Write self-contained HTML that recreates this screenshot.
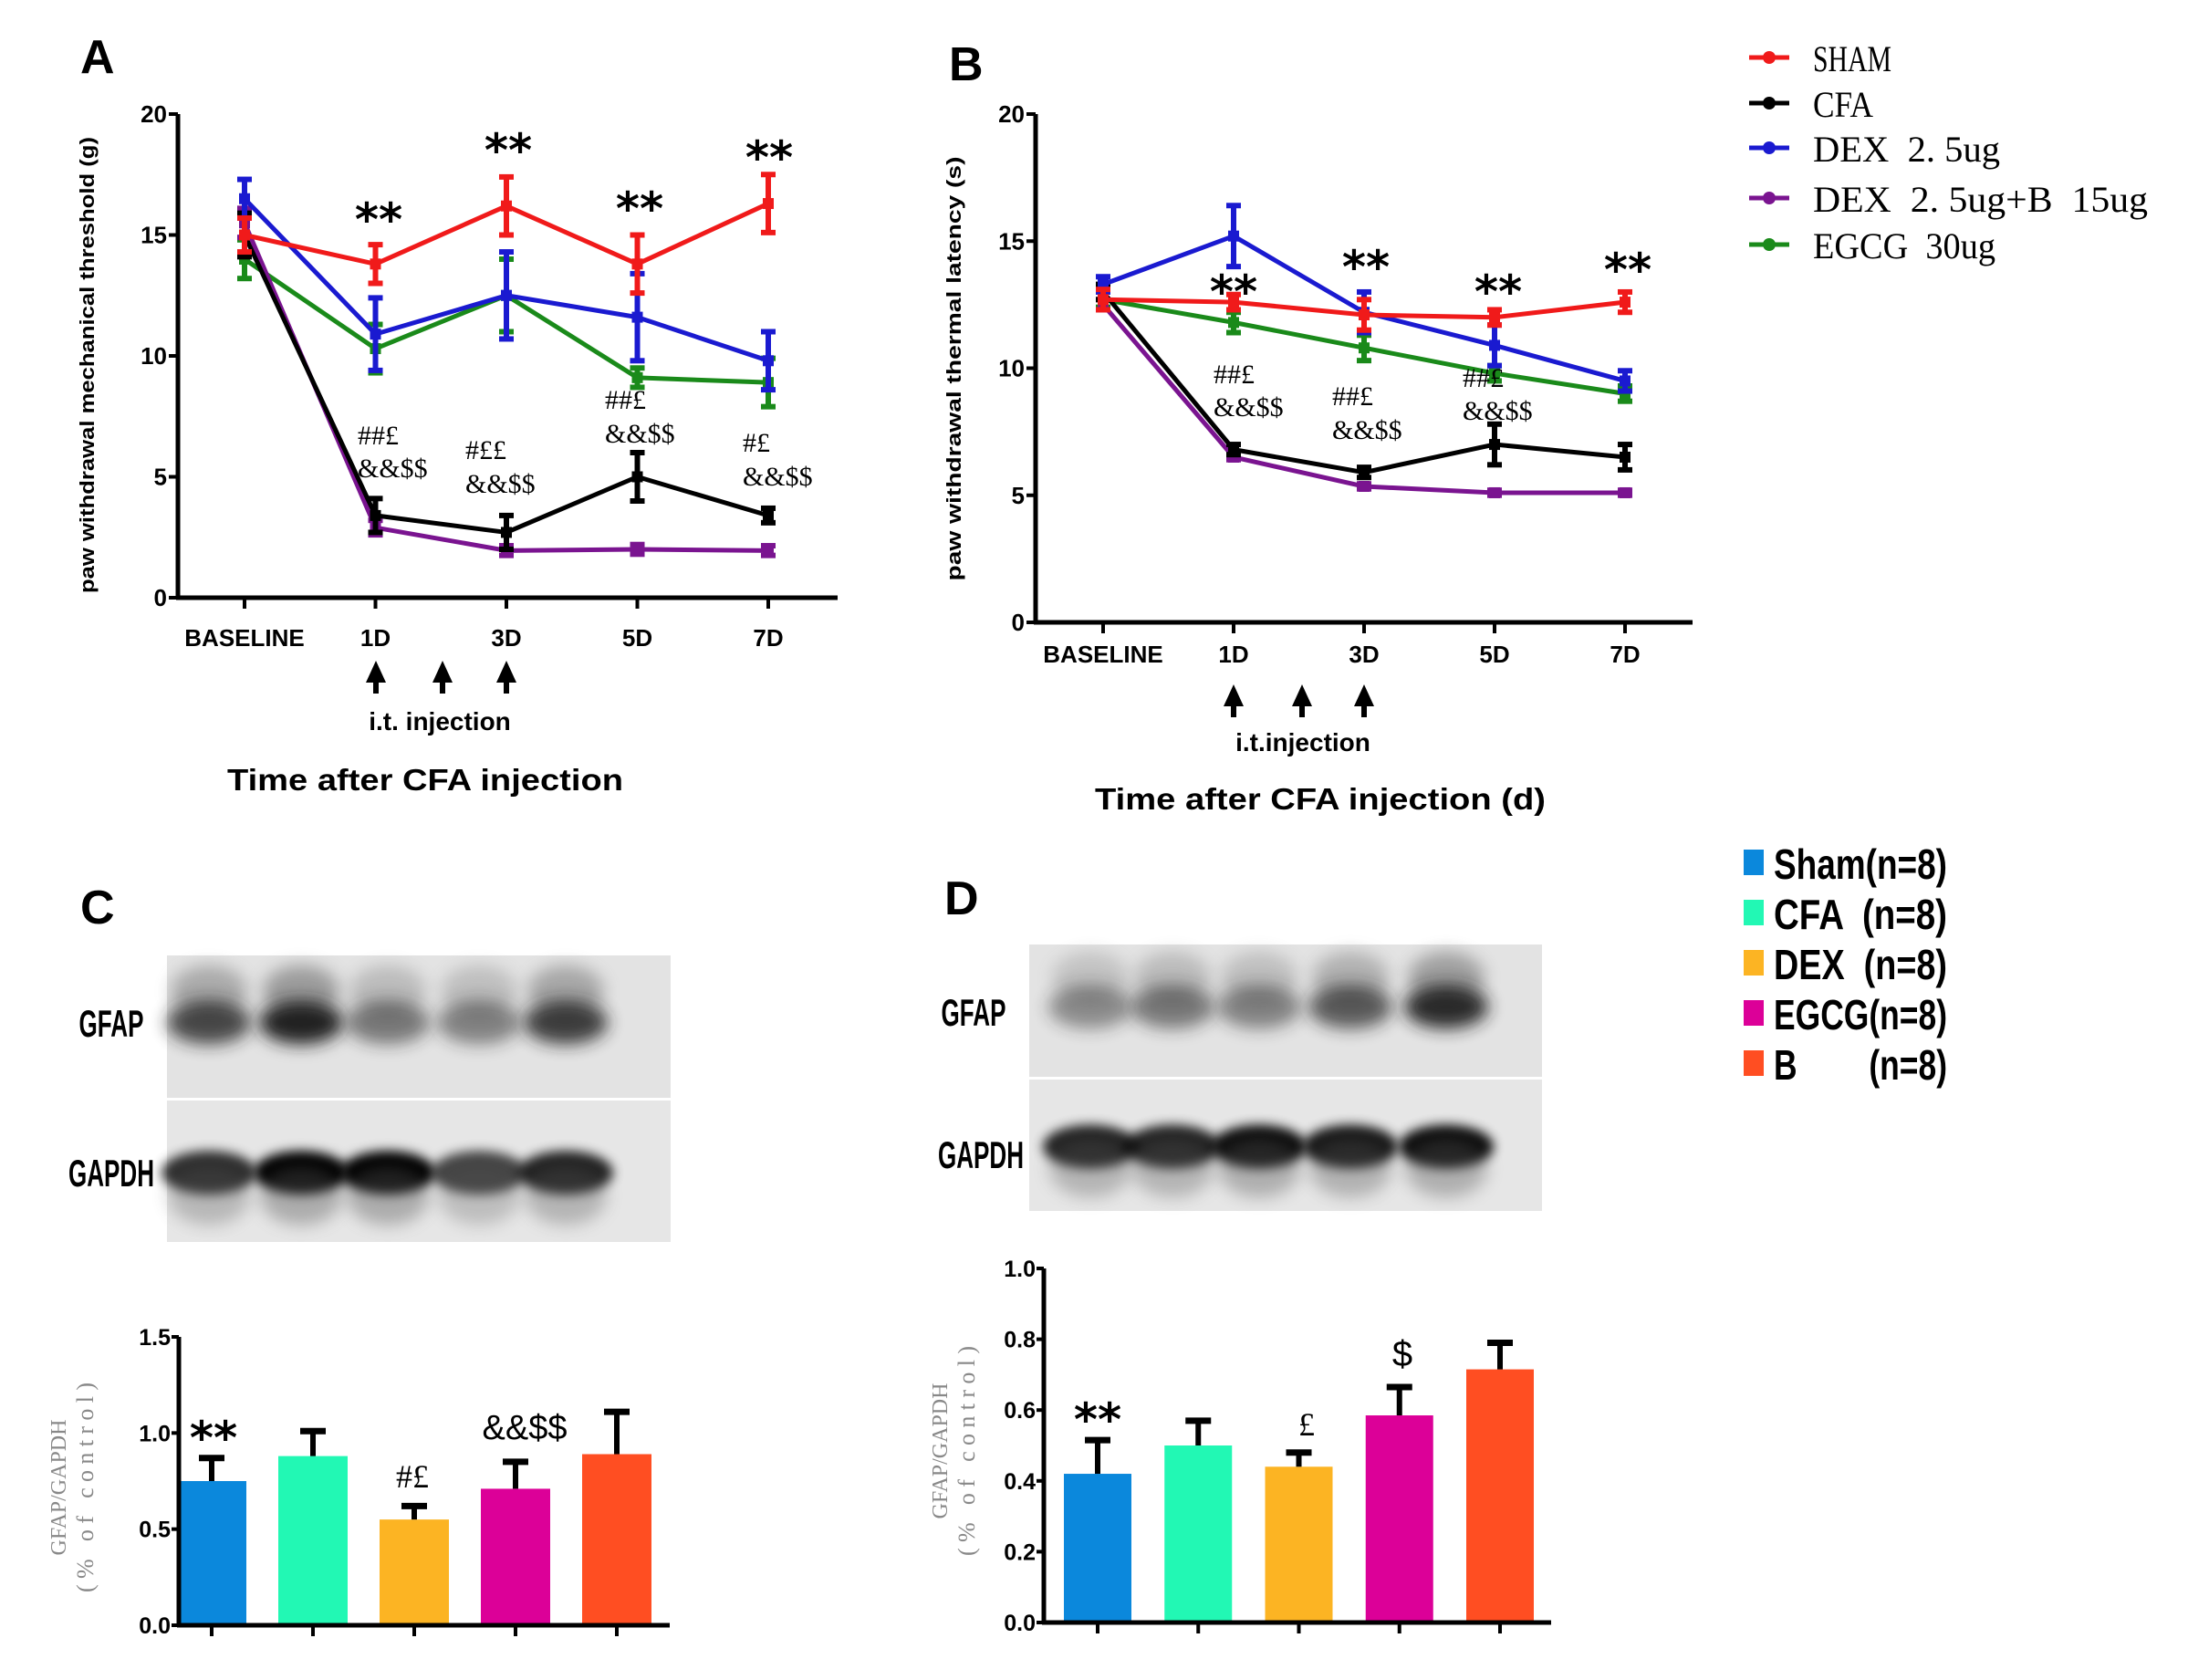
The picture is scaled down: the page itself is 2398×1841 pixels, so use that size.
<!DOCTYPE html>
<html><head><meta charset="utf-8"><style>
html,body{margin:0;padding:0;background:#fff;}
svg{display:block;}
</style></head><body>
<svg id="fig" width="2398" height="1841" viewBox="0 0 2398 1841" xmlns="http://www.w3.org/2000/svg" font-family="Liberation Sans, sans-serif">
<defs>
<filter id="blur" x="-50%" y="-50%" width="200%" height="200%"><feGaussianBlur stdDeviation="9"/></filter>
<filter id="blur2" x="-50%" y="-50%" width="200%" height="200%"><feGaussianBlur stdDeviation="6"/></filter>
</defs>
<g id="root"></g>
</svg>
<script>
// ---- Data: panel A (mechanical threshold) ----
const catsA = ["BASELINE","1D","3D","5D","7D"];
const ticksA = [0,5,10,15,20];
const shamA = [15.0,13.8,16.2,13.8,16.3];
const shamAErr = [0.7,0.8,1.2,1.2,1.2];
const cfaA = [15.0,3.4,2.7,5.0,3.4];
const cfaAErr = [0.9,0.7,0.7,1.0,0.3];
const dexA = [16.5,10.9,12.5,11.6,9.8];
const dexAErr = [0.8,1.5,1.8,1.8,1.2];
const dexbA = [15.5,2.9,1.95,2.0,1.95];
const dexbAErr = [0.6,0.3,0.2,0.2,0.2];
const egcgA = [14.0,10.3,12.5,9.1,8.9];
const egcgAErr = [0.8,1.0,1.5,0.4,1.0];
// ---- Data: panel B (thermal latency) ----
const catsB = ["BASELINE","1D","3D","5D","7D"];
const ticksB = [0,5,10,15,20];
const shamB = [12.7,12.6,12.1,12.0,12.6];
const shamBErr = [0.4,0.3,0.6,0.3,0.4];
const cfaB = [13.0,6.8,5.9,7.0,6.5];
const cfaBErr = [0.3,0.2,0.2,0.8,0.5];
const dexB = [13.3,15.2,12.2,10.9,9.5];
const dexBErr = [0.3,1.2,0.8,0.8,0.4];
const dexbB = [12.5,6.5,5.35,5.1,5.1];
const dexbBErr = [0.2,0.1,0.1,0.1,0.1];
const egcgB = [12.7,11.8,10.8,9.8,9.0];
const egcgBErr = [0.3,0.4,0.5,0.3,0.3];
// ---- Data: panel C / D bars ----
const barGroups = ["Sham","CFA","DEX","EGCG","B"];
const barC = [0.75,0.88,0.55,0.71,0.89];
const barCErr = [0.12,0.13,0.07,0.14,0.22];
const ticksC = ["0.0","0.5","1.0","1.5"];
const barD = [0.42,0.50,0.44,0.585,0.715];
const barDErr = [0.095,0.07,0.04,0.08,0.075];
const ticksD = ["0.0","0.2","0.4","0.6","0.8","1.0"];

const NS="http://www.w3.org/2000/svg";
const root=document.getElementById('root');
function el(tag,attrs,parent,txt){const e=document.createElementNS(NS,tag);for(const k in attrs)e.setAttribute(k,attrs[k]);if(txt!==undefined)e.textContent=txt;(parent||root).appendChild(e);return e;}

const colors={sham:"#f01a1a",cfa:"#000",dex:"#1a1ad0",dexb:"#7a1490",egcg:"#1a8a1a"};

function linePanel(cfg){
  const g=el('g',{});
  
  
  const y=v=>cfg.y0+(cfg.y20-cfg.y0)*v/20;
  const x=i=>cfg.xs[0]+i*(cfg.xs[1]-cfg.xs[0])/4;
  const ya=el('line',{x1:cfg.ax,y1:cfg.y20,x2:cfg.ax,y2:cfg.y0+2,stroke:"#000","stroke-width":5},g);
  
  const xa=el('line',{x1:cfg.ax-2,y1:cfg.y0,x2:cfg.xend,y2:cfg.y0,stroke:"#000","stroke-width":5},g);
  
  cfg.ticks.forEach(t=>{
    el('line',{x1:cfg.ax-10,y1:y(t),x2:cfg.ax,y2:y(t),stroke:"#000","stroke-width":4},g);
    const tl=el('text',{x:cfg.ax-12,y:y(t)+9,"text-anchor":"end","font-size":26,"font-weight":"bold"},g,String(t));
    
  });
  cfg.cats.forEach((c,i)=>{
    el('line',{x1:x(i),y1:cfg.y0,x2:x(i),y2:cfg.y0+12,stroke:"#000","stroke-width":4},g);
    const tl=el('text',{x:x(i),y:cfg.catY,"text-anchor":"middle","font-size":26,"font-weight":"bold"},g,c);
    
  });
  cfg.series.forEach(s=>{
    const sg=el('g',{},g);
    
    
    const pts=s.v.map((v,i)=>x(i)+","+y(v)).join(" ");
    el('polyline',{points:pts,fill:"none",stroke:colors[s.key],"stroke-width":5,"stroke-linejoin":"round"},sg);
    s.v.forEach((v,i)=>{
      const e=s.e[i];
      el('line',{x1:x(i),y1:y(v+e),x2:x(i),y2:y(v-e),stroke:colors[s.key],"stroke-width":6},sg);
      el('line',{x1:x(i)-8,y1:y(v+e),x2:x(i)+8,y2:y(v+e),stroke:colors[s.key],"stroke-width":6},sg);
      el('line',{x1:x(i)-8,y1:y(v-e),x2:x(i)+8,y2:y(v-e),stroke:colors[s.key],"stroke-width":6},sg);
      const m=el('rect',{x:x(i)-6,y:y(v)-6,width:12,height:12,fill:colors[s.key]},sg);
      
    });
  });
  return g;
}

linePanel({name:"panel-a-chart",ax:195,y20:125,y0:655,xs:[268,842],xend:918,ticks:ticksA,cats:catsA,catY:708,
  series:[{key:"egcg",v:egcgA,e:egcgAErr},{key:"dexb",v:dexbA,e:dexbAErr},{key:"cfa",v:cfaA,e:cfaAErr},{key:"dex",v:dexA,e:dexAErr},{key:"sham",v:shamA,e:shamAErr}]});
linePanel({name:"panel-b-chart",ax:1135,y20:125,y0:682,xs:[1209,1781],xend:1855,ticks:ticksB,cats:catsB,catY:726,
  series:[{key:"egcg",v:egcgB,e:egcgBErr},{key:"dexb",v:dexbB,e:dexbBErr},{key:"cfa",v:cfaB,e:cfaBErr},{key:"dex",v:dexB,e:dexBErr},{key:"sham",v:shamB,e:shamBErr}]});

function txt(name,x,y,s,size,opts){
  const a=Object.assign({x:x,y:y,"font-size":size},opts||{});
  const t=el('text',a,root,s);
  
  
  return t;
}
function arrow(x,y){
  const p=el('path',{d:`M${x},${y} l-11,24 l8,0 l0,12 l6,0 l0,-12 l8,0 z`,fill:"#000"});
  
}
txt('panel-label-a',88,80,"A",52,{"font-weight":"bold"});
txt('panel-label-b',1040,88,"B",52,{"font-weight":"bold"});
txt('panel-label-c',88,1012,"C",52,{"font-weight":"bold"});
txt('panel-label-d',1035,1002,"D",52,{"font-weight":"bold"});
txt('y-axis-title-a',0,0,"paw withdrawal mechanical threshold (g)",22,{"font-weight":"bold",transform:"translate(103,400) rotate(-90)","text-anchor":"middle",textLength:500,lengthAdjust:"spacingAndGlyphs"});
[412,485,555].forEach(x=>arrow(x,724));
txt('injection-label-a',482,800,"i.t. injection",28,{"font-weight":"bold","text-anchor":"middle"});
txt('x-axis-title-a',466,866,"Time after CFA injection",33,{"font-weight":"bold","text-anchor":"middle",textLength:434,lengthAdjust:"spacingAndGlyphs"});
txt('y-axis-title-b',0,0,"paw withdrawal thermal latency (s)",22,{"font-weight":"bold",transform:"translate(1053,404) rotate(-90)","text-anchor":"middle",textLength:465,lengthAdjust:"spacingAndGlyphs"});
[1352,1427,1495].forEach(x=>arrow(x,750));
txt('injection-label-b',1428,823,"i.t.injection",28,{"font-weight":"bold","text-anchor":"middle"});
txt('x-axis-title-b',1447,887,"Time after CFA injection (d)",33,{"font-weight":"bold","text-anchor":"middle",textLength:494,lengthAdjust:"spacingAndGlyphs"});
const ser={"font-family":"Liberation Serif, serif"};
const star={"text-anchor":"middle","font-family":"DejaVu Sans, sans-serif","font-weight":"bold"};
[[415,258],[557,182],[701,246],[843,190]].forEach(p=>txt('sig-stars',p[0],p[1],"**",50,star));
txt('sig-a-1d',392,487,"##£",30,ser);txt('sig-a-1d',392,523,"&&$$",30,ser);
txt('sig-a-3d',510,503,"#££",30,ser);txt('sig-a-3d',510,540,"&&$$",30,ser);
txt('sig-a-5d',663,448,"##£",30,ser);txt('sig-a-5d',663,485,"&&$$",30,ser);
txt('sig-a-7d',814,495,"#£",30,ser);txt('sig-a-7d',814,532,"&&$$",30,ser);
[[1352,337],[1497,310],[1642,337],[1784,313]].forEach(p=>txt('sig-stars',p[0],p[1],"**",50,star));
txt('sig-b-1d',1330,420,"##£",30,ser);txt('sig-b-1d',1330,456,"&&$$",30,ser);
txt('sig-b-3d',1460,444,"##£",30,ser);txt('sig-b-3d',1460,481,"&&$$",30,ser);
txt('sig-b-5d',1603,424,"##£",30,ser);txt('sig-b-5d',1603,460,"&&$$",30,ser);
const legNames=["SHAM","CFA","DEX  2. 5ug","DEX  2. 5ug+B  15ug","EGCG  30ug"];
const legKeys=["sham","cfa","dex","dexb","egcg"];
const legW=[86,66,205,367,200];
[63,113,162,217,268].forEach((yy,i)=>{
  const g=el('g',{});
  
  
  el('line',{x1:1917,y1:yy,x2:1961,y2:yy,stroke:colors[legKeys[i]],"stroke-width":5},g);
  el('circle',{cx:1939,cy:yy,r:7,fill:colors[legKeys[i]]},g);
  el('text',{x:1987,y:yy+15,"font-size":40,"font-family":"Liberation Serif, serif",style:"white-space:pre",textLength:legW[i],lengthAdjust:"spacingAndGlyphs"},g,legNames[i]);
});

function blot(name,x0,y0,w,h,div,lanes,top,bot,label1,label2,lx1,lx2,ly1,ly2){
  const g=el('g',{});
  
  
  el('rect',{x:x0,y:y0,width:w,height:div-y0,fill:"#e3e3e3"},g);
  el('rect',{x:x0,y:div+3,width:w,height:y0+h-div-3,fill:"#e6e6e6"},g);
  lanes.forEach((lx,i)=>{
    el('ellipse',{cx:lx,cy:y0+(div-y0)*0.25,rx:42,ry:28,fill:"#555",opacity:0.5*top[i],filter:"url(#blur)"},g);
    el('ellipse',{cx:lx,cy:y0+(div-y0)*0.47,rx:46,ry:24,fill:"#222",opacity:top[i],filter:"url(#blur)"},g);
    el('ellipse',{cx:lx,cy:div+3+(y0+h-div)*0.5,rx:52,ry:24,fill:"#000",opacity:bot[i],filter:"url(#blur2)"},g);
    el('ellipse',{cx:lx,cy:div+3+(y0+h-div)*0.66,rx:45,ry:32,fill:"#555",opacity:0.4*bot[i],filter:"url(#blur)"},g);
  });
  const t1=el('text',{x:lx1/0.62,y:ly1,"font-size":42,"font-weight":"bold","text-anchor":"middle",transform:`scale(0.62,1)`},root,label1);
  
  const t2=el('text',{x:lx2/0.62,y:ly2,"font-size":42,"font-weight":"bold","text-anchor":"middle",transform:`scale(0.62,1)`},root,label2);
  
}
blot('blot-c',183,1047,552,314,1203,[229,330,425,525,620],[0.8,1,0.55,0.5,0.85],[0.8,1,1,0.7,0.85],"GFAP","GAPDH",122,122,1136,1300);
blot('blot-d',1128,1035,562,292,1180,[1195,1285,1380,1480,1585],[0.45,0.55,0.5,0.7,0.95],[0.85,0.85,0.95,0.9,0.95],"GFAP","GAPDH",1067,1075,1124,1280);

const barColors=["#0b88dc","#22f8b4","#fcb423","#dc0098","#ff4e22"];
function barPanel(name,ax,ytop,y0,vmax,xend,centers,bw,vals,errs,ticks){
  const g=el('g',{});
  
  
  const y=v=>y0-(y0-ytop)*v/vmax;
  vals.forEach((v,i)=>{
    const cx=centers[0]+i*(centers[1]-centers[0])/4;
    const r=el('rect',{x:cx-bw/2,y:y(v),width:bw,height:y0-y(v),fill:barColors[i]},g);
    
    
    el('line',{x1:cx,y1:y(v),x2:cx,y2:y(v+errs[i]),stroke:"#000","stroke-width":6},g);
    el('line',{x1:cx-14,y1:y(v+errs[i]),x2:cx+14,y2:y(v+errs[i]),stroke:"#000","stroke-width":7},g);
    el('line',{x1:cx,y1:y0,x2:cx,y2:y0+12,stroke:"#000","stroke-width":4},g);
  });
  el('line',{x1:ax,y1:ytop,x2:ax,y2:y0+2,stroke:"#000","stroke-width":5},g);
  el('line',{x1:ax-2,y1:y0,x2:xend,y2:y0,stroke:"#000","stroke-width":5},g);
  ticks.forEach(t=>{
    const v=parseFloat(t);
    el('line',{x1:ax-8,y1:y(v),x2:ax,y2:y(v),stroke:"#000","stroke-width":4},g);
    const tl=el('text',{x:ax-9,y:y(v)+9,"text-anchor":"end","font-size":25,"font-weight":"bold"},g,t);
    
  });
}
barPanel('panel-c-chart',196,1465,1781,1.5,734,[232,676],76,barC,barCErr,ticksC);
barPanel('panel-d-chart',1144,1390,1778,1.0,1700,[1203,1644],74,barD,barDErr,ticksD);
const gy={"font-family":"Liberation Serif, serif",fill:"#888","text-anchor":"middle"};
txt('y-axis-title-c',0,0,"GFAP/GAPDH",24,Object.assign({transform:"translate(72,1630) rotate(-90)"},gy));
txt('y-axis-title-c2',0,0,"(% of control)",26,Object.assign({transform:"translate(102,1630) rotate(-90)",textLength:230,lengthAdjust:"spacing"},gy));
txt('y-axis-title-d',0,0,"GFAP/GAPDH",24,Object.assign({transform:"translate(1038,1590) rotate(-90)"},gy));
txt('y-axis-title-d2',0,0,"(% of control)",26,Object.assign({transform:"translate(1068,1590) rotate(-90)",textLength:230,lengthAdjust:"spacing"},gy));
txt('sig-c-sham',234,1593,"**",50,star);
txt('sig-c-dex',452,1630,"#£",36,Object.assign({"text-anchor":"middle"},ser));
txt('sig-c-egcg',575,1577,"&&$$",38,{"text-anchor":"middle"});
txt('sig-d-sham',1203,1573,"**",50,star);
txt('sig-d-dex',1432,1573,"£",36,Object.assign({"text-anchor":"middle"},ser));
txt('sig-d-egcg',1537,1497,"$",40,{"text-anchor":"middle"});
const legBar=["Sham(n=8)","CFA  (n=8)","DEX  (n=8)","EGCG(n=8)","B        (n=8)"];
[945,1000,1055,1110,1165].forEach((yy,i)=>{
  const g=el('g',{});
  
  
  el('rect',{x:1911,y:yy-14,width:22,height:28,fill:barColors[i]},g);
  el('text',{x:1944,y:yy+18,"font-size":46,"font-weight":"bold",style:"white-space:pre",textLength:190,lengthAdjust:"spacingAndGlyphs"},g,legBar[i]);
});
</script>
</body></html>
